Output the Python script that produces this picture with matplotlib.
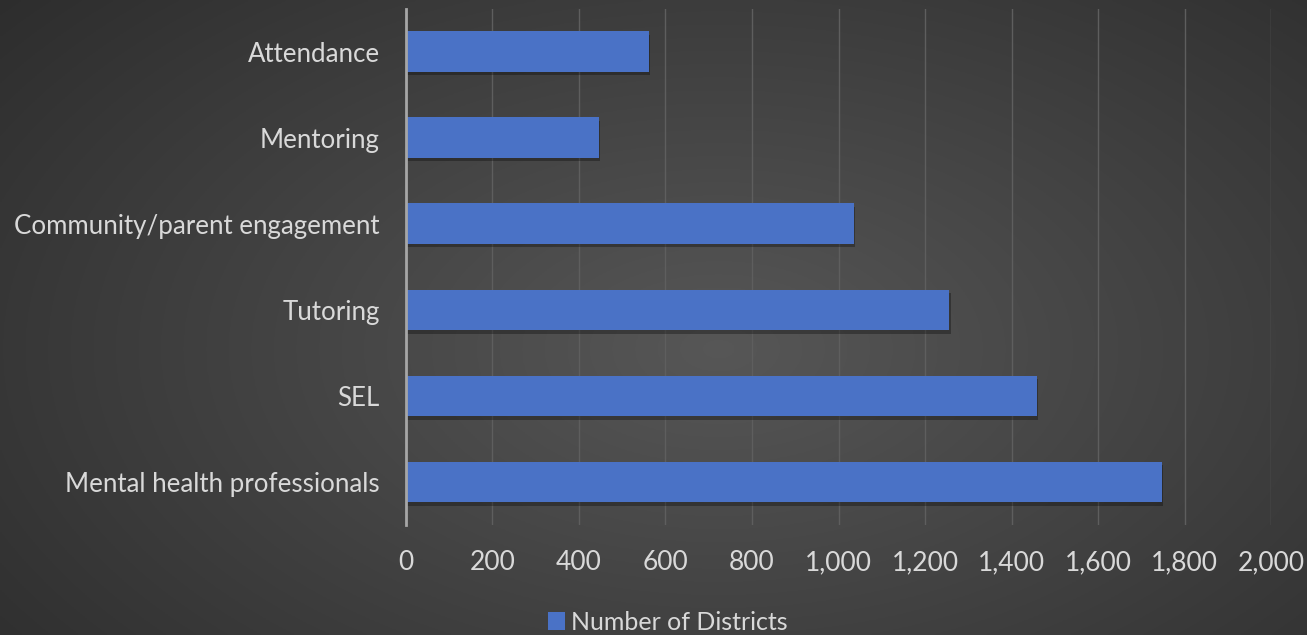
import numpy as np
import matplotlib.pyplot as plt
import matplotlib.patheffects as pe
from matplotlib.ticker import FuncFormatter

categories = ["Mental health professionals", "SEL", "Tutoring",
              "Community/parent engagement", "Mentoring", "Attendance"]
districts = [1748, 1459, 1256, 1036, 446, 562]
series_name = "Number of Districts"

BAR_COLOR = "#4a72c6"
TEXT_COLOR = "#d9d9d9"

plt.rcParams['font.family'] = ['Lato', 'DejaVu Sans']

fig = plt.figure(figsize=(13.07, 6.35), dpi=100)

# radial gradient background
bg = fig.add_axes([0, 0, 1, 1])
yy, xx = np.mgrid[0:1:300j, 0:1:600j]
r = np.sqrt(((xx - 0.55) / 0.75) ** 2 + ((yy - 0.45) / 0.9) ** 2)
shade = np.clip(0.34 - 0.17 * r, 0.15, 0.34)
bg.imshow(np.dstack([shade, shade, shade]), aspect="auto",
          extent=[0, 1, 0, 1], origin="lower")
bg.axis("off")

ax = fig.add_axes([0.3106, 0.1732, 0.6619, 0.8134])
ax.patch.set_alpha(0)

y = np.arange(len(categories))
bars = ax.barh(y, districts, height=0.47, color=BAR_COLOR, label=series_name,
               zorder=3)
for b in bars:
    b.set_path_effects([pe.SimplePatchShadow(offset=(1, -2.5), shadow_rgbFace="black",
                                             alpha=0.3), pe.Normal()])

ax.set_xlim(0, 2000)
ax.set_ylim(-0.5, len(categories) - 0.5)
ax.set_xticks(np.arange(0, 2001, 200))
ax.xaxis.set_major_formatter(FuncFormatter(lambda v, p: f"{int(v):,}"))
ax.set_yticks(y)
ax.set_yticklabels(categories)

ax.grid(axis="x", color="#5e5e5e", linewidth=1, zorder=0)
ax.tick_params(length=0, colors=TEXT_COLOR)
ax.tick_params(axis="x", pad=18, labelsize=19)
ax.tick_params(axis="y", pad=19, labelsize=18.6)

for s in ["top", "right", "bottom"]:
    ax.spines[s].set_visible(False)
ax.spines["left"].set_color("#a6a6a6")
ax.spines["left"].set_linewidth(2)
ax.spines["left"].set_zorder(4)

leg = fig.legend(loc="center", bbox_to_anchor=(0.511, 0.02), frameon=False,
                 fontsize=18, handlelength=0.7, handleheight=0.7,
                 handletextpad=0.25, labelcolor=TEXT_COLOR)
for h in leg.legend_handles:
    h.set_path_effects([])

fig.savefig("out.png", dpi=100)
